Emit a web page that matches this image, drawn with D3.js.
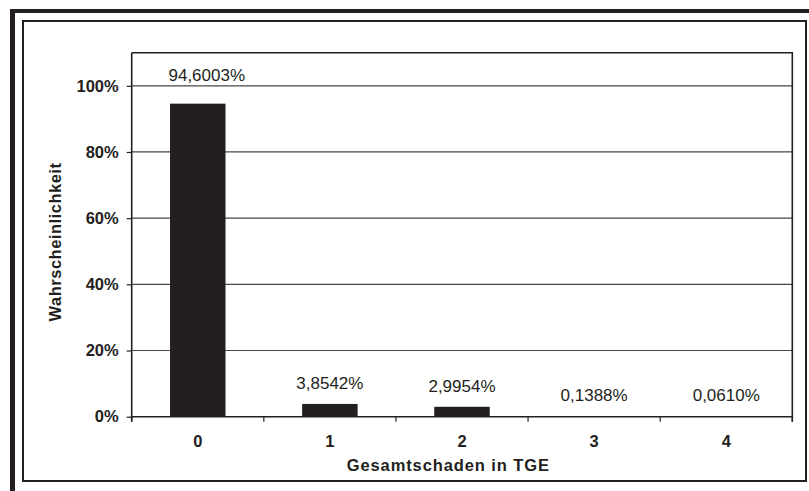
<!DOCTYPE html>
<html>
<head>
<meta charset="utf-8">
<script src="https://cdn.jsdelivr.net/npm/d3@7"></script>
<style>
  html, body { margin: 0; padding: 0; background: #ffffff; }
  svg { display: block; font-family: Arial, "Liberation Sans", Helvetica, sans-serif; }
</style>
</head>
<body>
<svg id="chart" width="809" height="491"></svg>
<script>
// Verteilung des Gesamtschadens (in TGE)
const categories = ["0", "1", "2", "3", "4"];
const probabilities = [94.6003, 3.8542, 2.9954, 0.1388, 0.0610]; // in %
const valueLabels = ["94,6003%", "3,8542%", "2,9954%", "0,1388%", "0,0610%"];
const yTicks = [0, 20, 40, 60, 80, 100];
const yTickLabels = ["0%", "20%", "40%", "60%", "80%", "100%"];
const xTitle = "Gesamtschaden in TGE";
const yTitle = "Wahrscheinlichkeit";

const ink = "#231f20";
const svg = d3.select("#chart");

// outer frame: heavy top and left rules
svg.append("rect").attr("x", 10).attr("y", 9).attr("width", 799).attr("height", 4).attr("fill", ink);
svg.append("rect").attr("x", 10).attr("y", 9).attr("width", 5).attr("height", 482).attr("fill", ink);

// chart area border
svg.append("rect")
  .attr("x", 23).attr("y", 21).attr("width", 783).attr("height", 460)
  .attr("fill", "none").attr("stroke", ink).attr("stroke-width", 2);

// plot area
const plot = { left: 131.7, right: 792.3, top: 52.7, bottom: 416.7 };

const y = d3.scaleLinear().domain([0, 110]).range([plot.bottom, plot.top]);
const band = d3.scaleBand().domain(categories).range([plot.left, plot.right]).padding(0);
const x = d3.scaleBand().domain(categories).range([plot.left, plot.right])
  .paddingInner(0.58).paddingOuter(0.29);

// gridlines
svg.append("g").selectAll("line")
  .data(yTicks.filter(t => t > 0))
  .join("line")
  .attr("x1", plot.left).attr("x2", plot.right)
  .attr("y1", d => y(d)).attr("y2", d => y(d))
  .attr("stroke", "#4a4647").attr("stroke-width", 1.2);

// bars
svg.append("g").selectAll("rect")
  .data(probabilities)
  .join("rect")
  .attr("x", (d, i) => x(categories[i]))
  .attr("width", x.bandwidth())
  .attr("y", d => y(d))
  .attr("height", d => y(0) - y(d))
  .attr("fill", ink);

// plot border (top and right)
svg.append("path")
  .attr("d", `M${plot.left},${plot.top}H${plot.right}V${plot.bottom + 5}`)
  .attr("fill", "none").attr("stroke", ink).attr("stroke-width", 1.6);

// y axis
const yAxis = d3.axisLeft(y)
  .tickValues(yTicks)
  .tickFormat((d, i) => yTickLabels[i])
  .tickSize(5).tickSizeOuter(0).tickPadding(8);
const gy = svg.append("g").attr("transform", `translate(${plot.left},0)`).call(yAxis);
gy.select(".domain").attr("stroke", ink).attr("stroke-width", 1.6)
  .attr("d", `M0,${plot.top}V${plot.bottom + 5}`);
gy.selectAll(".tick line").attr("stroke", ink).attr("stroke-width", 1.2);
gy.selectAll(".tick text")
  .attr("fill", ink).attr("font-size", "16.5px").attr("font-weight", "bold")
  .attr("font-family", "Arial, 'Liberation Sans', sans-serif");

// x axis: baseline with ticks on category boundaries
const xAxisG = svg.append("g");
xAxisG.append("line")
  .attr("x1", plot.left).attr("x2", plot.right)
  .attr("y1", y(0)).attr("y2", y(0))
  .attr("stroke", ink).attr("stroke-width", 1.6);
const boundaries = categories.map(c => band(c)).concat([plot.right]);
xAxisG.selectAll("line.tick")
  .data(boundaries)
  .join("line").attr("class", "tick")
  .attr("x1", d => d).attr("x2", d => d)
  .attr("y1", y(0)).attr("y2", y(0) + 5)
  .attr("stroke", ink).attr("stroke-width", 1.2);
xAxisG.selectAll("text")
  .data(categories)
  .join("text")
  .attr("x", d => band(d) + band.bandwidth() / 2)
  .attr("y", 447.3)
  .attr("text-anchor", "middle")
  .attr("font-size", "16.5px").attr("font-weight", "bold")
  .attr("fill", ink)
  .text(d => d);

// value labels above the bars; a label that would sit on a gridline
// is lifted above it and shifted slightly to the right
const gridYs = yTicks.filter(t => t > 0).map(t => y(t));
const labelPos = probabilities.map((d, i) => {
  let base = y(d) - 15;
  let cx = x(categories[i]) + x.bandwidth() / 2;
  const hit = gridYs.find(g => g > base - 12 && g < base + 3);
  if (hit !== undefined) { base = hit - 5; cx += 9; }
  return { x: cx, y: base };
});
svg.append("g").selectAll("text")
  .data(probabilities)
  .join("text")
  .attr("x", (d, i) => labelPos[i].x)
  .attr("y", (d, i) => labelPos[i].y)
  .attr("text-anchor", "middle")
  .attr("font-size", "17px")
  .attr("fill", ink)
  .text((d, i) => valueLabels[i]);

// axis titles
svg.append("text")
  .attr("x", 448.3).attr("y", 470.7)
  .attr("text-anchor", "middle")
  .attr("font-size", "16.5px").attr("font-weight", "bold")
  .attr("letter-spacing", "0.9px")
  .attr("fill", ink)
  .text(xTitle);

svg.append("text")
  .attr("transform", "translate(61,242) rotate(-90)")
  .attr("text-anchor", "middle")
  .attr("font-size", "16.5px").attr("font-weight", "bold")
  .attr("letter-spacing", "0.5px")
  .attr("fill", ink)
  .text(yTitle);
</script>
</body>
</html>
